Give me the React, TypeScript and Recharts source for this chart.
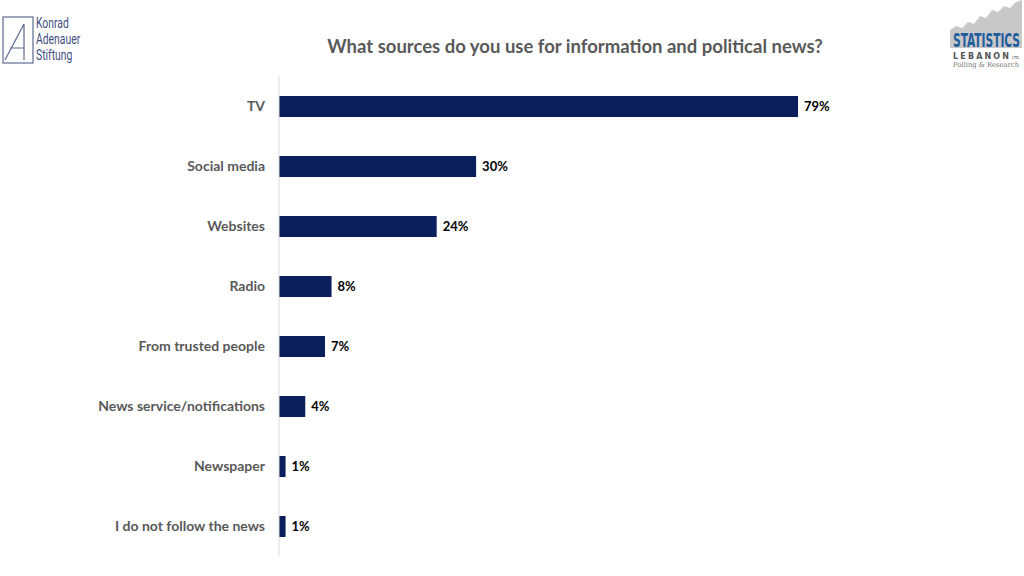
import React from 'react';
import { BarChart, Bar, XAxis, YAxis, LabelList } from 'recharts';

const sources = [
  'TV',
  'Social media',
  'Websites',
  'Radio',
  'From trusted people',
  'News service/notifications',
  'Newspaper',
  'I do not follow the news',
];
const shares = [79, 30, 24, 8, 7, 4, 1, 1];

const data = sources.map((source, i) => ({ source, share: shares[i] }));

const NAVY = '#0b1f5c';
const GREY = '#595959';

const SourceTick = ({ x, y, payload }: { x?: number; y?: number; payload?: { value: string } }) => (
  <text
    x={x}
    y={y}
    dy={5}
    textAnchor="end"
    fill={GREY}
    fontSize={14}
    fontWeight={700}
    fontFamily="Lato"
  >
    {payload?.value}
  </text>
);

const KasLogo = () => (
  <div style={{ position: 'absolute', left: 0, top: 14, width: 110, height: 52 }}>
    <svg width={34} height={50} style={{ position: 'absolute', left: 2, top: 2 }}>
      <rect x={1} y={1} width={30} height={46} fill="none" stroke="#5a6a8f" strokeWidth={1.2} />
      <path d="M3 44 L22 8 L22 44 M8 32 L22 32" fill="none" stroke="#5a6a8f" strokeWidth={1.2} />
    </svg>
    <div
      style={{
        position: 'absolute',
        left: 36,
        top: 1,
        fontFamily: 'Roboto',
        fontSize: 14,
        lineHeight: '16px',
        color: '#3f4f82',
        transform: 'scaleX(0.74)',
        transformOrigin: 'left top',
      }}
    >
      Konrad
      <br />
      Adenauer
      <br />
      Stiftung
    </div>
  </div>
);

// logo graphic, top right
const StatsLogo = () => (
  <svg width={74} height={70} style={{ position: 'absolute', left: 950, top: 0 }}>
    <path
      d="M0 30 L6 26 L12 28 L18 22 L24 24 L30 16 L36 18 L42 10 L48 12 L54 6 L60 8 L66 2 L72 0 L72 48 L0 48 Z"
      fill="#c8c8c8"
    />
    <g transform="translate(3,47) scale(1,1.9)">
      <text x={0} y={0} fontFamily="DejaVu Sans Condensed" fontWeight={700} fontSize={10} fill="#1f5c9e" textLength={67} lengthAdjust="spacingAndGlyphs">
        STATISTICS
      </text>
    </g>
    <text x={3} y={59} fontFamily="DejaVu Sans" fontWeight={700} fontSize={8} fill="#555" textLength={56} lengthAdjust="spacing">
      LEBANON
    </text>
    <text x={62} y={59} fontFamily="DejaVu Sans" fontSize={4} fill="#555">
      LTD
    </text>
    <text x={3} y={67} fontFamily="DejaVu Serif" fontSize={7} fill="#777" textLength={66} lengthAdjust="spacingAndGlyphs">
      Polling &amp; Research
    </text>
  </svg>
);

export default function App() {
  return (
    <div style={{ position: 'relative', width: 1024, height: 576, background: '#fff', overflow: 'hidden' }}>
      <style>{'body{margin:0}'}</style>
      <KasLogo />
      <StatsLogo />
      <div
        style={{
          position: 'absolute',
          left: 0,
          width: 1150,
          top: 35,
          textAlign: 'center',
          fontFamily: 'Lato',
          fontWeight: 700,
          fontSize: 18.5,
          color: GREY,
        }}
      >
        What sources do you use for information and political news?
      </div>
      <div style={{ position: 'absolute', left: 0, top: 0 }}>
        <BarChart
          width={1024}
          height={576}
          data={data}
          layout="vertical"
          margin={{ top: 76, right: 88, bottom: 20, left: 0 }}
          barCategoryGap={0}
        >
          <XAxis type="number" domain={[0, 100]} hide />
          <YAxis
            type="category"
            dataKey="source"
            width={279}
            tickLine={false}
            axisLine={{ stroke: '#d9d9d9', strokeWidth: 1 }}
            tickMargin={8}
            tick={<SourceTick />}
            interval={0}
          />
          <Bar dataKey="share" fill={NAVY} barSize={21} isAnimationActive={false}>
            <LabelList
              dataKey="share"
              position="right"
              offset={6}
              formatter={(v: number) => `${v}%`}
              fill="#000"
              fontSize={13}
              fontWeight={700}
              fontFamily="Lato"
            />
          </Bar>
        </BarChart>
      </div>
    </div>
  );
}
